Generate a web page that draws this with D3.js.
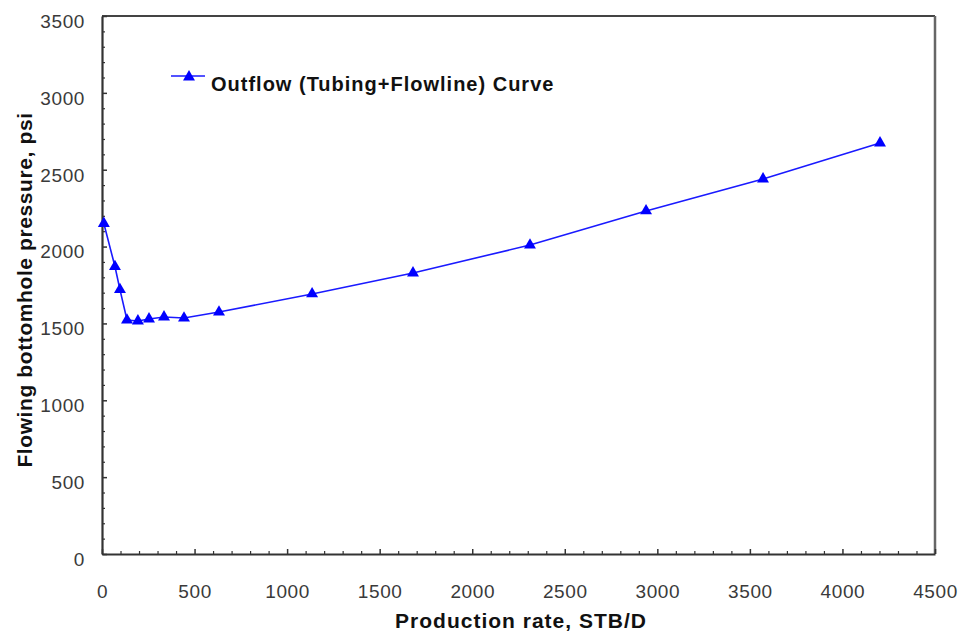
<!DOCTYPE html>
<html>
<head>
<meta charset="utf-8">
<script src="https://cdn.jsdelivr.net/npm/d3@7/dist/d3.min.js"></script>
<style>
  html, body { margin: 0; padding: 0; background: #fff; }
  svg { display: block; font-family: "Liberation Sans", Arial, sans-serif; }
</style>
</head>
<body>
<svg id="chart" width="962" height="634"></svg>
<script>
// ---- data ----
const rate = [10, 70, 97, 135, 194, 254, 335, 443, 632, 1135, 1680, 2312, 2939, 3571, 4203];
const pressure = [2150, 1870, 1720, 1522, 1516, 1529, 1542, 1535, 1574, 1692, 1828, 2010, 2232, 2440, 2674];
const seriesName = "Outflow (Tubing+Flowline) Curve";
const xTicks = [0, 500, 1000, 1500, 2000, 2500, 3000, 3500, 4000, 4500];
const yTicks = [0, 500, 1000, 1500, 2000, 2500, 3000, 3500];
const xTitle = "Production rate, STB/D";
const yTitle = "Flowing bottomhole pressure, psi";

const svg = d3.select("#chart");
const L = 102, R = 935, T = 16, B = 554;
const x = d3.scaleLinear().domain([0, 4500]).range([L, R]);
const y = d3.scaleLinear().domain([0, 3500]).range([B, T]);

const axisColor = "#333";
const labelColor = "#3a3a3a";

// frame (top & right)
svg.append("line").attr("x1", L).attr("x2", R).attr("y1", T).attr("y2", T)
  .attr("stroke", "#444").attr("stroke-width", 2);
svg.append("line").attr("x1", R).attr("x2", R).attr("y1", T).attr("y2", B)
  .attr("stroke", "#666").attr("stroke-width", 2.5);

// minor ticks
const xMinor = d3.range(0, 4501, 100).filter(v => v % 500 !== 0);
const yMinor = d3.range(0, 3501, 100).filter(v => v % 500 !== 0);
svg.append("g").attr("transform", `translate(0,${B})`)
  .call(d3.axisBottom(x).tickValues(xMinor).tickSize(-3).tickFormat(""))
  .call(g => g.select(".domain").remove())
  .selectAll("line").attr("stroke", axisColor).attr("stroke-width", 1.2);
svg.append("g").attr("transform", `translate(${L},0)`)
  .call(d3.axisLeft(y).tickValues(yMinor).tickSize(-3).tickFormat(""))
  .call(g => g.select(".domain").remove())
  .selectAll("line").attr("stroke", axisColor).attr("stroke-width", 1.2);

// major axes
const gx = svg.append("g").attr("transform", `translate(0,${B})`)
  .call(d3.axisBottom(x).tickValues(xTicks).tickSizeInner(-5).tickSizeOuter(0).tickPadding(31).tickFormat(d3.format("d")));
gx.select(".domain").attr("stroke", axisColor).attr("stroke-width", 2.2);
gx.selectAll(".tick line").attr("stroke", axisColor).attr("stroke-width", 1.5);
gx.selectAll("text").attr("fill", labelColor).style("font-size", "19px").style("letter-spacing", "0.6px");

const gy = svg.append("g").attr("transform", `translate(${L},0)`)
  .call(d3.axisLeft(y).tickValues(yTicks).tickSizeInner(-5).tickSizeOuter(0).tickPadding(17).tickFormat(d3.format("d")));
gy.select(".domain").attr("stroke", axisColor).attr("stroke-width", 2.2);
gy.selectAll(".tick line").attr("stroke", axisColor).attr("stroke-width", 1.5);
gy.selectAll("text").attr("fill", labelColor).attr("dy", "0.6em").style("font-size", "19px").style("letter-spacing", "0.6px");

// axis titles
svg.append("text").attr("x", 521).attr("y", 628).attr("text-anchor", "middle")
  .style("font-size", "21px").style("font-weight", "bold").style("letter-spacing", "1px")
  .attr("fill", "#111").text(xTitle);
svg.append("text").attr("transform", `translate(32,290) rotate(-90)`).attr("text-anchor", "middle")
  .style("font-size", "21px").style("font-weight", "bold").style("letter-spacing", "0.6px")
  .attr("fill", "#111").text(yTitle);

// series
const pts = rate.map((r, i) => [r, pressure[i]]);
const blue = "#1a1aff";
svg.append("path").datum(pts)
  .attr("d", d3.line().x(d => x(d[0])).y(d => y(d[1])))
  .attr("fill", "none").attr("stroke", blue).attr("stroke-width", 1.6);
const tri = d3.symbol().type(d3.symbolTriangle).size(62);
svg.append("g").selectAll("path").data(pts).join("path")
  .attr("d", tri).attr("transform", d => `translate(${x(d[0])},${y(d[1])})`)
  .attr("fill", "#0000ff");

// legend
svg.append("line").attr("x1", 171).attr("x2", 205).attr("y1", 76).attr("y2", 76)
  .attr("stroke", blue).attr("stroke-width", 1.6);
svg.append("path").attr("d", tri).attr("transform", "translate(189,77)").attr("fill", "#0000ff");
svg.append("text").attr("x", 211).attr("y", 91)
  .style("font-size", "20px").style("font-weight", "bold").style("letter-spacing", "1px")
  .attr("fill", "#111").text(seriesName);
</script>
</body>
</html>
